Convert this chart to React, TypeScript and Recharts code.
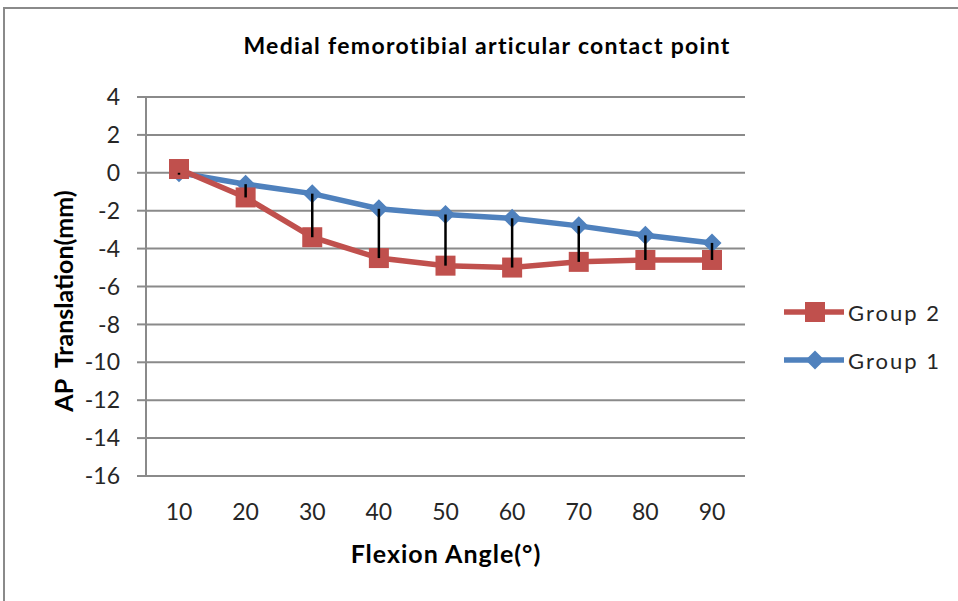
import React from 'react';
import { LineChart, Line, XAxis, YAxis, CartesianGrid, ErrorBar } from 'recharts';

const angles = ['10', '20', '30', '40', '50', '60', '70', '80', '90'];
const group1 = [0, -0.6, -1.1, -1.9, -2.2, -2.4, -2.8, -3.3, -3.7];
const group2 = [0.2, -1.3, -3.4, -4.5, -4.9, -5.0, -4.7, -4.6, -4.6];
const group1ErrDown = [0.1, 0.7, 2.3, 2.6, 2.7, 2.6, 1.9, 1.3, 0.9];
const yTicks = [-16, -14, -12, -10, -8, -6, -4, -2, 0, 2, 4];

const RED = '#C0504D';
const BLUE = '#4F81BD';
const GRID = '#8a8a8a';
const FONT = 'Lato, "Open Sans", sans-serif';

const data = angles.map((a, i) => ({
  angle: a,
  g1: group1[i],
  g2: group2[i],
  g1err: [group1ErrDown[i], 0],
}));

const SquareDot = (props: any) => {
  const { cx, cy, index } = props;
  if (cx == null || cy == null) return <g key={`s${index}`} />;
  return <rect key={`s${index}`} x={cx - 10} y={cy - 10} width={20} height={20} fill={RED} />;
};

const DiamondDot = (props: any) => {
  const { cx, cy, index } = props;
  if (cx == null || cy == null) return <g key={`d${index}`} />;
  const r = 9.5;
  return (
    <polygon
      key={`d${index}`}
      points={`${cx},${cy - r} ${cx + r},${cy} ${cx},${cy + r} ${cx - r},${cy}`}
      fill={BLUE}
    />
  );
};

export default function App() {
  const errProps: any = { zIndex: 2000 };
  return (
    <div style={{ position: 'absolute', left: 0, top: 0, width: 958, height: 601, background: '#fff', overflow: 'hidden' }}>
      <div
        style={{
          position: 'absolute',
          left: 3,
          top: 7,
          width: 970,
          height: 610,
          borderLeft: `2px solid ${GRID}`,
          borderTop: `2px solid ${GRID}`,
        }}
      />
      <LineChart
        width={958}
        height={601}
        data={data}
        margin={{ top: 97, right: 213, bottom: 0, left: 0 }}
        style={{ position: 'absolute', left: 0, top: 0 }}
      >
        <CartesianGrid vertical={false} stroke={GRID} strokeWidth={2} />
        <XAxis
          dataKey="angle"
          tickLine={false}
          axisLine={{ stroke: GRID, strokeWidth: 2 }}
          tickMargin={22}
          height={125}
          padding={{ left: 33, right: 33 }}
          tick={{ fontSize: 23, fill: '#262626', fontFamily: FONT }}
          interval={0}
        />
        <YAxis
          width={146}
          domain={[-16, 4]}
          ticks={yTicks}
          interval={0}
          tickSize={9}
          tickMargin={17}
          tickLine={{ stroke: GRID, strokeWidth: 2 }}
          axisLine={{ stroke: GRID, strokeWidth: 2 }}
          tick={{ fontSize: 23, fill: '#262626', fontFamily: FONT }}
        />
        <Line
          type="linear"
          dataKey="g1"
          name="Group 1"
          stroke={BLUE}
          strokeWidth={5.5}
          dot={DiamondDot}
          activeDot={false}
          isAnimationActive={false}
        />
        <Line
          type="linear"
          dataKey="g2"
          name="Group 2"
          stroke={RED}
          strokeWidth={5.5}
          dot={SquareDot}
          activeDot={false}
          isAnimationActive={false}
        />
        <Line
          type="linear"
          dataKey="g1"
          name="err"
          stroke="none"
          dot={false}
          activeDot={false}
          legendType="none"
          isAnimationActive={false}
        >
          <ErrorBar dataKey="g1err" direction="y" width={0} stroke="#000" strokeWidth={2.5} {...errProps} />
        </Line>
        <text x={487} y={54} textAnchor="middle" fontFamily={FONT} fontWeight="bold" fontSize={23} letterSpacing={1.3} fill="#000">
          Medial femorotibial articular contact point
        </text>
        <text x={446} y={563} textAnchor="middle" fontFamily={FONT} fontWeight="bold" fontSize={25} letterSpacing={1} fill="#000">
          Flexion Angle(°)
        </text>
        <text
          x={0}
          y={0}
          transform="translate(73,301) rotate(-90)"
          textAnchor="middle"
          fontFamily={FONT}
          fontWeight="bold"
          fontSize={25}
          fill="#000"
          style={{ whiteSpace: 'pre' }}
        >
          {'AP  Translation(mm)'}
        </text>
      </LineChart>
      <div style={{ position: 'absolute', left: 784, top: 294, fontFamily: FONT, fontSize: 22, letterSpacing: 2, color: '#262626' }}>
        <div style={{ display: 'flex', alignItems: 'center', height: 36 }}>
          <svg width={62} height={24}>
            <line x1={0} y1={12} x2={60} y2={12} stroke={RED} strokeWidth={5.5} />
            <rect x={21} y={2} width={20} height={20} fill={RED} />
          </svg>
          <span style={{ marginLeft: 2 }}>Group 2</span>
        </div>
        <div style={{ display: 'flex', alignItems: 'center', height: 36, marginTop: 12 }}>
          <svg width={62} height={24}>
            <line x1={0} y1={12} x2={60} y2={12} stroke={BLUE} strokeWidth={5.5} />
            <polygon points="31,2.5 40.5,12 31,21.5 21.5,12" fill={BLUE} />
          </svg>
          <span style={{ marginLeft: 2 }}>Group 1</span>
        </div>
      </div>
    </div>
  );
}
